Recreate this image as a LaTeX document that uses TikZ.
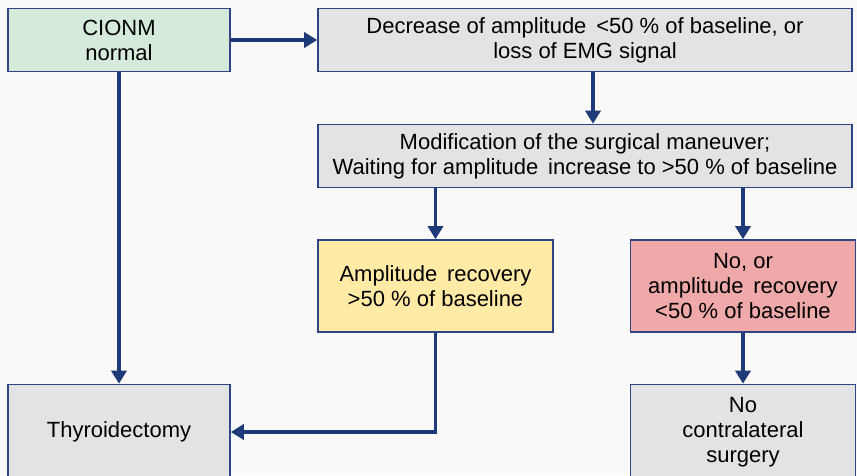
\documentclass[tikz,border=0pt]{standalone}
\usepackage{fontspec}
\setmainfont{Liberation Sans}
\usetikzlibrary{positioning,arrows.meta}

\definecolor{arrowblue}{HTML}{1F3A78}
\definecolor{boxline}{HTML}{2E4585}
\definecolor{greenbox}{HTML}{D6EADB}
\definecolor{graybox}{HTML}{E3E3E3}
\definecolor{yellowbox}{HTML}{FFEAA6}
\definecolor{redbox}{HTML}{EFA9A8}
\definecolor{pagebg}{HTML}{F9F9F9}

\tikzset{
  stepbox/.style={draw=boxline, line width=1.6pt, minimum height=63pt,
    align=center, inner sep=2pt, font=\fontsize{22}{25}\selectfont},
  flow/.style={draw=arrowblue, line width=3.5pt, -{Triangle[width=15pt,length=13pt]}}
}

\begin{document}
\begin{tikzpicture}[x=1pt, y=-1pt]
  % page and cut at the bottom edge
  \fill[pagebg] (0,0) rectangle (857,475);
  \useasboundingbox (0,0) rectangle (857,475);
  \clip (0,0) rectangle (857,475);

  % boxes
  \node[stepbox, fill=greenbox, minimum width=222pt] (cionm) at (119,40) {CIONM\\normal};
  \node[stepbox, fill=graybox, minimum width=534pt] (decrease) at (585,40)
    {Decrease of amplitude \,<50 \% of baseline, or\\loss of EMG signal};
  \node[stepbox, fill=graybox, minimum width=534pt] (modif) at (585,156)
    {Modification of the surgical maneuver;\\Waiting for amplitude \,increase to >50 \% of baseline};
  \node[stepbox, fill=yellowbox, minimum width=235pt, minimum height=92pt] (recover) at (435.5,286)
    {Amplitude \,recovery\\>50 \% of baseline};
  \node[stepbox, fill=redbox, minimum width=225pt, minimum height=92pt] (norecover) at (743,286)
    {No, or\\amplitude \,recovery\\<50 \% of baseline};
  \node[stepbox, fill=graybox, minimum width=222pt, minimum height=95pt] (thyro) at (119,432)
    {Thyroidectomy};
  \node[stepbox, fill=graybox, minimum width=225pt, minimum height=95pt] (nosurgery) at (743,432)
    {No\\contralateral\\surgery};

  % connectors
  \draw[flow] (cionm.east) -- (decrease.west);
  \draw[flow] (decrease.south -| 593,0) -- (modif.north -| 593,0);
  \draw[flow] (modif.south -| recover.north) -- (recover.north);
  \draw[flow] (modif.south -| norecover.north) -- (norecover.north);
  \draw[flow] (cionm.south) -- (thyro.north);
  \draw[flow] (norecover.south) -- (nosurgery.north);
  \draw[flow] (recover.south) |- (thyro.east);
\end{tikzpicture}
\end{document}
